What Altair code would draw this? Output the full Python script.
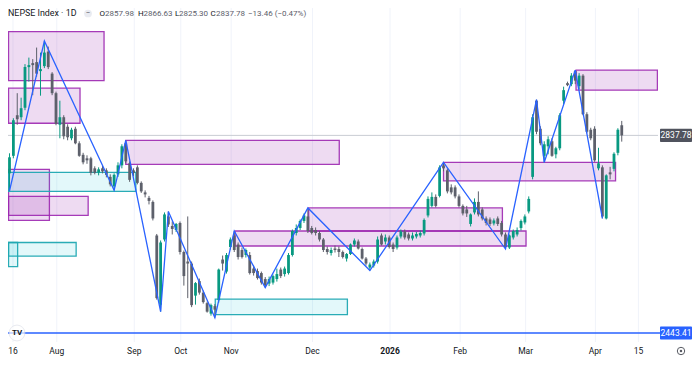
import altair as alt
import pandas as pd

# ---------------- data ----------------
opens = [2762, 2797, 2878, 2874, 2893, 2974, 2982, 2984, 2966, 2976,
         3005, 2961, 2922, 2859, 2874, 2855, 2832, 2851, 2822, 2799,
         2792, 2792, 2772, 2764, 2772, 2768, 2755, 2736, 2760, 2778,
         2822, 2782, 2768, 2774, 2743, 2724, 2713, 2705, 2638, 2500,
         2630, 2676, 2657, 2649, 2663, 2605, 2586, 2582, 2518, 2547,
         2524, 2503, 2482, 2497, 2509, 2590, 2566, 2615, 2638, 2620,
         2609, 2599, 2599, 2572, 2567, 2563, 2551, 2542, 2544, 2551,
         2570, 2561, 2563, 2599, 2643, 2653, 2667, 2676, 2653, 2649,
         2643, 2630, 2611, 2603, 2612, 2611, 2605, 2592, 2601, 2620,
         2626, 2611, 2592, 2574, 2578, 2586, 2638, 2626, 2634, 2620,
         2614, 2636, 2646, 2640, 2632, 2636, 2638, 2642, 2678, 2697,
         2715, 2717, 2778, 2768, 2734, 2734, 2716, 2697, 2690, 2661,
         2684, 2705, 2690, 2672, 2670, 2662, 2672, 2663, 2640, 2614,
         2634, 2640, 2653, 2664, 2686, 2755, 2907, 2851, 2797, 2816,
         2826, 2800, 2812, 2907, 2942, 2940, 2966, 2936, 2957, 2880,
         2849, 2851, 2772, 2774, 2672, 2764, 2771, 2803, 2857.98]
highs = [2802, 2872, 2922, 2913, 2980, 2993, 2990, 3013, 3003, 3026,
         3015, 2964, 2925, 2907, 2878, 2860, 2853, 2855, 2826, 2803,
         2798, 2795, 2776, 2774, 2778, 2772, 2760, 2762, 2784, 2820,
         2828, 2786, 2772, 2778, 2746, 2728, 2717, 2708, 2641, 2628,
         2684, 2686, 2666, 2663, 2666, 2608, 2676, 2586, 2545, 2552,
         2528, 2506, 2502, 2501, 2572, 2598, 2603, 2634, 2647, 2624,
         2614, 2612, 2605, 2578, 2572, 2566, 2555, 2556, 2560, 2572,
         2574, 2576, 2603, 2650, 2660, 2670, 2682, 2693, 2657, 2654,
         2647, 2633, 2616, 2614, 2618, 2616, 2608, 2603, 2622, 2632,
         2630, 2614, 2595, 2584, 2590, 2636, 2642, 2640, 2638, 2624,
         2638, 2650, 2650, 2644, 2644, 2645, 2648, 2672, 2716, 2724,
         2720, 2778, 2784, 2772, 2740, 2738, 2720, 2700, 2697, 2682,
         2712, 2726, 2694, 2676, 2674, 2672, 2676, 2667, 2644, 2640,
         2650, 2654, 2670, 2680, 2716, 2880, 2909, 2856, 2826, 2836,
         2832, 2815, 2882, 2935, 2945, 2962, 2968, 2962, 2960, 2884,
         2853, 2856, 2813, 2778, 2760, 2775, 2804, 2852, 2866.63]
lows = [2727, 2792, 2859, 2868, 2888, 2945, 2918, 2955, 2917, 2972,
        2970, 2918, 2858, 2832, 2830, 2828, 2828, 2820, 2795, 2780,
        2781, 2758, 2760, 2758, 2762, 2754, 2736, 2728, 2755, 2772,
        2782, 2745, 2756, 2740, 2723, 2714, 2700, 2668, 2510, 2486,
        2626, 2655, 2640, 2645, 2600, 2538, 2513, 2495, 2500, 2520,
        2502, 2484, 2478, 2474, 2504, 2568, 2562, 2610, 2605, 2590,
        2592, 2594, 2560, 2558, 2550, 2540, 2534, 2537, 2540, 2546,
        2553, 2556, 2560, 2596, 2638, 2649, 2663, 2643, 2640, 2638,
        2626, 2605, 2600, 2598, 2604, 2595, 2592, 2586, 2599, 2616,
        2610, 2590, 2578, 2568, 2574, 2582, 2618, 2620, 2612, 2605,
        2610, 2632, 2630, 2628, 2628, 2632, 2634, 2638, 2674, 2694,
        2694, 2714, 2766, 2722, 2720, 2712, 2694, 2678, 2675, 2656,
        2680, 2676, 2668, 2658, 2657, 2658, 2657, 2636, 2611, 2611,
        2630, 2636, 2648, 2660, 2682, 2750, 2840, 2818, 2784, 2800,
        2795, 2792, 2808, 2900, 2936, 2936, 2940, 2930, 2878, 2842,
        2828, 2785, 2768, 2672, 2670, 2750, 2766, 2798, 2825.30]
closes = [2794, 2868, 2870, 2892, 2974, 2978, 2978, 2961, 2970, 3003,
          2974, 2922, 2861, 2874, 2836, 2834, 2849, 2822, 2797, 2784,
          2788, 2763, 2763, 2770, 2766, 2759, 2740, 2759, 2778, 2816,
          2786, 2749, 2763, 2743, 2726, 2720, 2707, 2672, 2513, 2624,
          2680, 2660, 2651, 2661, 2605, 2557, 2582, 2499, 2543, 2524,
          2505, 2486, 2499, 2490, 2570, 2582, 2599, 2630, 2609, 2595,
          2595, 2609, 2563, 2563, 2553, 2544, 2538, 2551, 2557, 2561,
          2557, 2572, 2599, 2647, 2653, 2667, 2678, 2647, 2643, 2643,
          2630, 2609, 2605, 2609, 2609, 2605, 2595, 2601, 2620, 2628,
          2612, 2592, 2582, 2580, 2586, 2630, 2620, 2634, 2615, 2611,
          2634, 2646, 2634, 2632, 2638, 2641, 2643, 2669, 2711, 2715,
          2697, 2774, 2772, 2726, 2724, 2716, 2697, 2682, 2682, 2680,
          2705, 2680, 2672, 2663, 2661, 2668, 2661, 2640, 2615, 2638,
          2647, 2649, 2667, 2676, 2711, 2874, 2845, 2822, 2820, 2830,
          2797, 2812, 2878, 2928, 2938, 2957, 2947, 2957, 2880, 2845,
          2832, 2788, 2782, 2676, 2758, 2760, 2801, 2849, 2837.78]

pivot_idx = [0, 9, 27, 30, 39, 41, 53, 58, 66, 77, 93, 112, 128, 136, 138, 146, 153]
pivot_val = [2727, 3026, 2728, 2828, 2486, 2686, 2474, 2647, 2534, 2693, 2568,
             2784, 2611, 2909, 2784, 2968, 2672]

box_x1 = [-0.25, -0.25, 30, -0.25, -0.25, -0.25, -0.25, -0.25, 53.1, 58.2, 77.2, 112, 146.2]
box_x2 = [24.4, 18.2, 85.1, 32.6, 10.3, 20.3, 17.2, 2.1, 87.2, 133.3, 127.2, 156.4, 167.2]
box_lo = [2947, 2862, 2780, 2726, 2668, 2678, 2597, 2576, 2480, 2617, 2647, 2747, 2928]
box_hi = [3045, 2932, 2828, 2764, 2770, 2716, 2624, 2624, 2511, 2647, 2693, 2784, 2968]
box_kind = ["p", "p", "p", "c", "p", "p", "c", "c", "c", "p", "p", "p", "p"]

month_pos = [0.9, 12.2, 32.2, 44.2, 57.2, 78.2, 98.2, 116.3, 133.2, 151.2, 162.3]
month_lab = ["16", "Aug", "Sep", "Oct", "Nov", "Dec", "2026", "Feb", "Mar", "Apr", "15"]

ytick_vals = [2480, 2520, 2560, 2600, 2640, 2680, 2720, 2760, 2800, 2840,
              2880, 2920, 2960, 3000, 3040, 3080]

last_price = [2837.78]
hline_price = [2443.41]

# ---------------- layout ----------------
W, H = 650, 334
X_DOM = [-0.387, 167.355]
Y_DOM = [2425.44, 3091.97]
UP, DOWN = "#089981", "#5d606b"
FONT = "Roboto"

xs = alt.Scale(domain=X_DOM, nice=False, zero=False, padding=0)
ys = alt.Scale(domain=Y_DOM, nice=False, zero=False, padding=0)

candles = pd.DataFrame({"i": list(range(len(opens))), "o": opens, "h": highs,
                        "l": lows, "c": closes})
candles["dir"] = ["up" if c >= o else "down" for o, c in zip(opens, closes)]
zig = pd.DataFrame({"i": pivot_idx, "v": pivot_val})
boxes = pd.DataFrame({"x1": box_x1, "x2": box_x2, "lo": box_lo, "hi": box_hi, "k": box_kind})
months = pd.DataFrame({"pos": month_pos, "lab": month_lab})
months["bold"] = [1 if m == "2026" else 0 for m in month_lab]
lp = pd.DataFrame({"p": last_price, "t": ["2837.78"]})
hl = pd.DataFrame({"p": hline_price, "t": ["2443.41"]})

col = alt.Color("dir:N", scale=alt.Scale(domain=["up", "down"], range=[UP, DOWN]), legend=None)

vgrid = alt.Chart(months).mark_rule(color="#f0f3fa", strokeWidth=1).encode(
    x=alt.X("pos:Q", scale=xs, axis=None), y=alt.value(0), y2=alt.value(H))

purple = alt.Chart(boxes).transform_filter("datum.k == 'p'").mark_rect(
    fill="#9c27b0", fillOpacity=0.17, stroke="#9c27b0", strokeOpacity=0.9,
    strokeWidth=1.3, clip=True).encode(
    x=alt.X("x1:Q", scale=xs, axis=None), x2="x2:Q",
    y=alt.Y("lo:Q", scale=ys, axis=None), y2="hi:Q")
cyan = alt.Chart(boxes).transform_filter("datum.k == 'c'").mark_rect(
    fill="#00bcd4", fillOpacity=0.11, stroke="#1fa8b2", strokeOpacity=0.95,
    strokeWidth=1.3, clip=True).encode(
    x=alt.X("x1:Q", scale=xs, axis=None), x2="x2:Q",
    y=alt.Y("lo:Q", scale=ys, axis=None), y2="hi:Q")

pline = alt.Chart(lp).mark_rule(color="#c9ccd3", strokeWidth=1).encode(
    y=alt.Y("p:Q", scale=ys, axis=None), x=alt.value(0), x2=alt.value(W))

wicks = alt.Chart(candles).mark_rule(strokeWidth=1, clip=True).encode(
    x=alt.X("i:Q", scale=xs, axis=None),
    y=alt.Y("l:Q", scale=ys, axis=alt.Axis(
        orient="right", values=ytick_vals, format=".2f", title=None,
        labelFontSize=8.5, labelColor="#131722", labelFont=FONT,
        ticks=False, domain=False, labelPadding=3,
        grid=True, gridColor="#f0f3fa")),
    y2="h:Q", color=col)
bodies = alt.Chart(candles).mark_bar(size=2.8, clip=True).encode(
    x=alt.X("i:Q", scale=xs, axis=None),
    y=alt.Y("o:Q", scale=ys, axis=None), y2="c:Q", color=col)

zigzag = alt.Chart(zig).mark_line(color="#2962ff", strokeWidth=1.3, clip=True).encode(
    x=alt.X("i:Q", scale=xs, axis=None), y=alt.Y("v:Q", scale=ys, axis=None))

bline = alt.Chart(hl).mark_rule(color="#2962ff", strokeWidth=1.4).encode(
    y=alt.Y("p:Q", scale=ys, axis=None), x=alt.value(0), x2=alt.value(W + 2))


def badge(df, bg):
    r = alt.Chart(df).transform_calculate(
        top="datum.p + 13", bot="datum.p - 13").mark_rect(fill=bg, cornerRadius=1).encode(
        y=alt.Y("top:Q", scale=ys, axis=None), y2="bot:Q",
        x=alt.value(W + 2), x2=alt.value(W + 34))
    t = alt.Chart(df).mark_text(color="white", fontSize=8.5, font=FONT,
                                align="center", baseline="middle").encode(
        y=alt.Y("p:Q", scale=ys, axis=None), x=alt.value(W + 18), text="t:N")
    return r + t


b1 = badge(lp, "#50535e")
b2 = badge(hl, "#2962ff")

xl_norm = alt.Chart(months).transform_filter("datum.bold == 0").mark_text(
    fontSize=8.5, font=FONT, color="#131722", baseline="middle", align="center").encode(
    x=alt.X("pos:Q", scale=xs, axis=None), y=alt.value(H + 9), text="lab:N")
xl_bold = alt.Chart(months).transform_filter("datum.bold == 1").mark_text(
    fontSize=8.5, font=FONT, color="#131722", fontWeight="bold",
    baseline="middle", align="center").encode(
    x=alt.X("pos:Q", scale=xs, axis=None), y=alt.value(H + 9), text="lab:N")


def label(txt, x, y, size, color, weight="normal", align="left"):
    return alt.Chart(pd.DataFrame({"t": [txt]})).mark_text(
        fontSize=size, font=FONT, color=color, fontWeight=weight,
        align=align, baseline="top").encode(
        x=alt.value(x), y=alt.value(y), text="t:N")


NUM = "#5d606b"
hdr = [
    label("NEPSE Index · 1D", 0, 0.5, 8.9, "#131722"),
    label("O", 91.5, 1.5, 8, "#131722"), label("2857.98", 97, 1.5, 8, NUM),
    label("H", 130, 1.5, 8, "#131722"), label("2866.63", 135.5, 1.5, 8, NUM),
    label("L", 167, 1.5, 8, "#131722"), label("2825.30", 171, 1.5, 8, NUM),
    label("C", 202.5, 1.5, 8, "#131722"), label("2837.78", 208, 1.5, 8, NUM),
    label("−13.46 (−0.47%)", 240, 1.5, 8, NUM),
]
icon = alt.Chart(lp).mark_point(shape="circle", filled=True, fill="#e0e3eb", size=60,
                                strokeWidth=0).encode(x=alt.value(80), y=alt.value(5.5))
icon_t = label("−", 80, 0.5, 8, "#5d606b", align="center")

logo = alt.Chart(hl).mark_point(shape="circle", filled=True, fill="white", size=250,
                                stroke="#e0e3eb", strokeWidth=1).encode(
    x=alt.value(9), y=alt.Y("p:Q", scale=ys, axis=None))
logo_t = alt.Chart(hl).transform_calculate(t="'TV'").mark_text(
    fontSize=8, font=FONT, fontWeight="bold", color="#131722",
    align="center", baseline="middle").encode(
    x=alt.value(9), y=alt.Y("p:Q", scale=ys, axis=None), text="t:N")

gear = alt.Chart(lp).mark_point(shape="circle", filled=False, size=55, color="#131722",
                                strokeWidth=1).encode(x=alt.value(673), y=alt.value(H + 9))
gear_in = alt.Chart(lp).mark_point(shape="circle", filled=True, size=6, color="#131722").encode(
    x=alt.value(673), y=alt.value(H + 9))

chart = alt.layer(
    vgrid, purple, cyan, pline, wicks, bodies, zigzag, bline, b1, b2,
    xl_norm, xl_bold, *hdr, icon, icon_t, logo, logo_t, gear, gear_in
).properties(
    width=W, height=H,
    autosize=alt.AutoSizeParams(type="none"),
    padding={"left": 0, "top": 0, "right": 34, "bottom": 14},
).configure(font=FONT).configure_view(strokeWidth=0)

chart.save("out.html", embed_options={"renderer": "svg", "actions": False})
